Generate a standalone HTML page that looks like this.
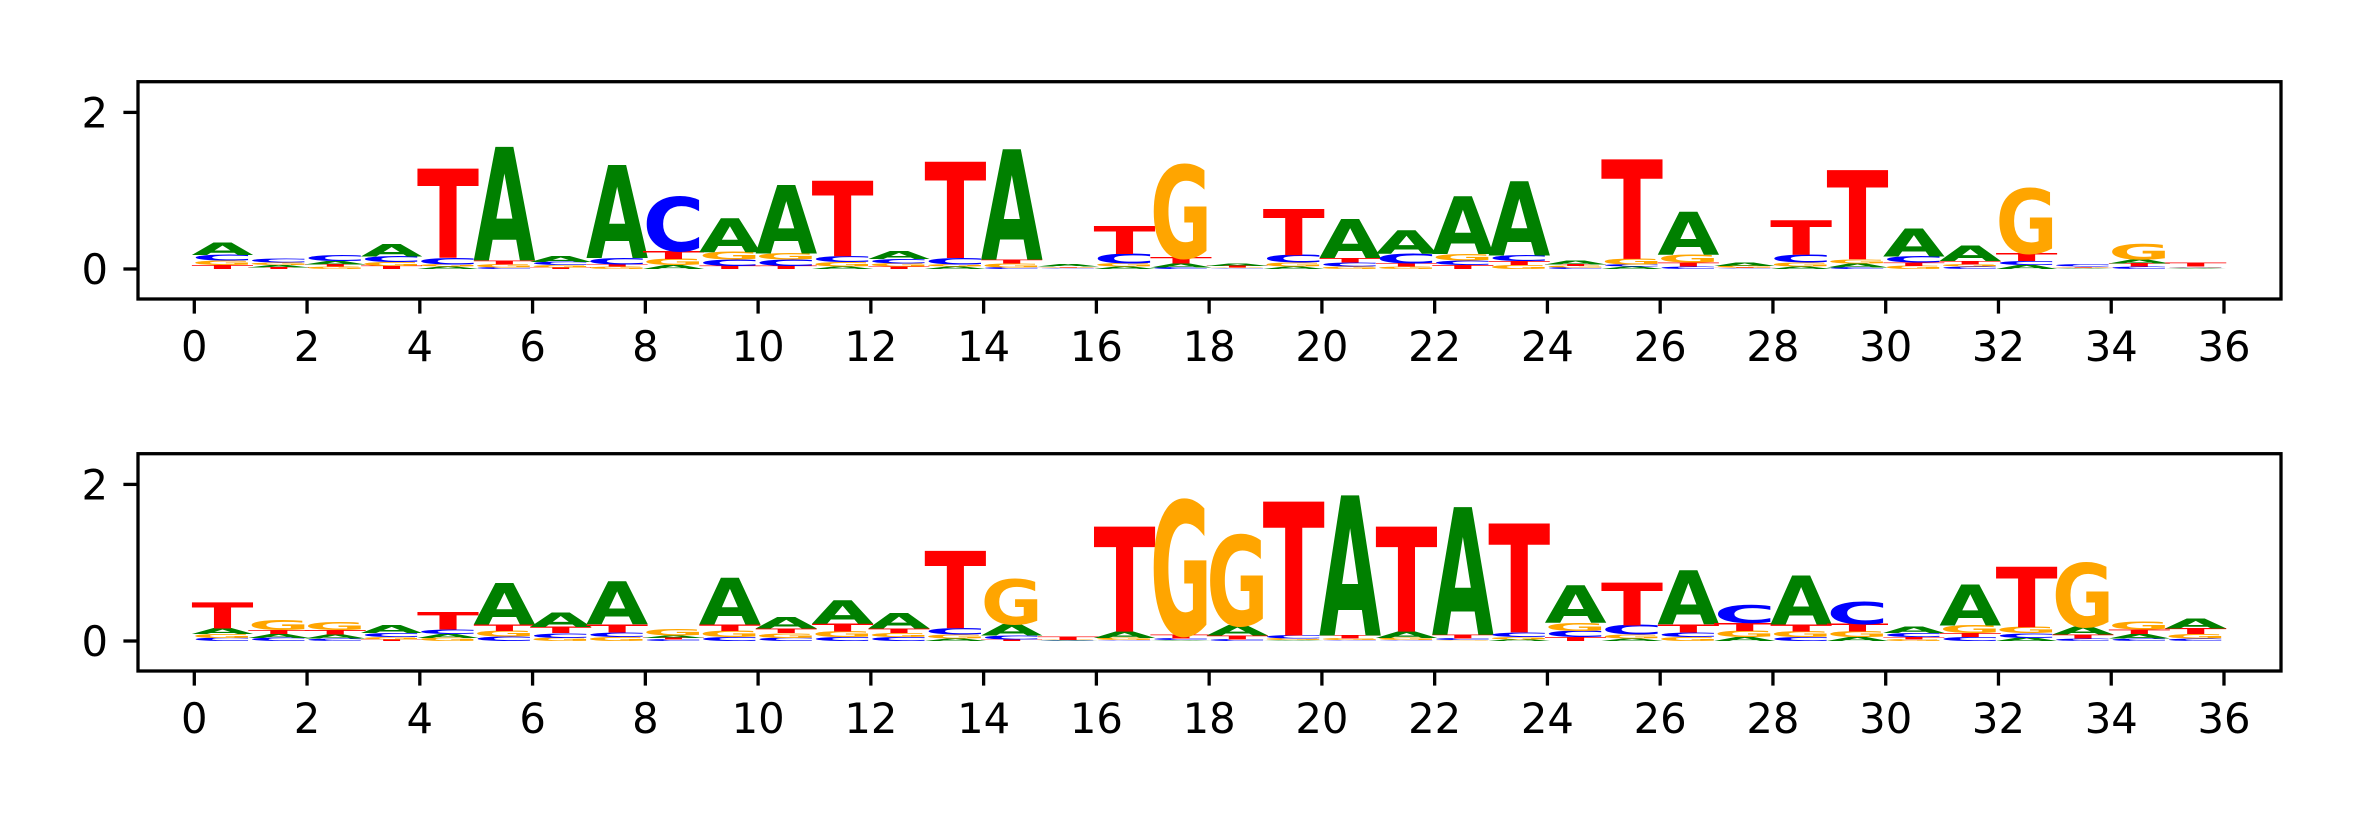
<!DOCTYPE html>
<html><head><meta charset="utf-8"><style>
html,body{margin:0;padding:0;background:#fff}
svg{display:block}
text{font-family:"DejaVu Sans","Liberation Sans",sans-serif}
</style></head><body>
<svg id="chart" width="2362" height="826" viewBox="0 0 2362 826" xmlns="http://www.w3.org/2000/svg">
<g id="panels"></g>
</svg>
<script>
const positions = Array.from({length:36},(_,i)=>i);
const xTicks = [0,2,4,6,8,10,12,14,16,18,20,22,24,26,28,30,32,34,36];
const yTicks = [0,2];
const letters = ['A','C','G','T'];
const top_A = [.16,.03,.04,.16,.03,1.45,.07,1.19,.05,.43,.87,.03,.1,.03,1.41,.03,.03,.05,.03,.03,.5,.3,.74,.95,.05,.03,.55,.04,.03,.05,.36,.2,.05,.01,.05,.01];
const top_C = [.07,.05,.07,.07,.08,.02,.04,.08,.69,.08,.08,.07,.06,.08,.02,.01,.12,.02,.01,.1,.05,.12,.06,.07,.02,.03,.03,.01,.1,.02,.08,.03,.05,.03,.03,.01];
const top_G = [.06,.03,.03,.05,.03,.04,.03,.03,.08,.1,.08,.06,.04,.03,.05,.01,.04,1.18,.01,.05,.03,.03,.08,.05,.02,.07,.1,.02,.05,.05,.04,.03,.82,.01,.2,.01];
const top_T = [.05,.02,.03,.04,1.14,.05,.02,.03,.1,.04,.04,.96,.03,1.23,.05,.01,.36,.08,.02,.59,.06,.04,.05,.05,.02,1.27,.05,.01,.44,1.14,.04,.04,.1,.01,.04,.05];
const bot_A = [.07,.05,.05,.1,.05,.53,.18,.55,.03,.6,.15,.3,.2,.03,.15,.005,.08,.01,.13,.01,1.79,.08,1.63,.02,.48,.03,.69,.05,.62,.05,.08,.52,.04,.1,.06,.12];
const bot_C = [.04,.04,.03,.05,.06,.06,.06,.06,.02,.05,.04,.05,.05,.08,.05,.005,.01,.02,.02,.04,.01,.01,.02,.06,.08,.12,.06,.23,.05,.28,.05,.05,.06,.03,.03,.03];
const bot_G = [.05,.12,.1,.03,.04,.07,.04,.05,.08,.08,.06,.07,.05,.05,.57,.005,.03,1.71,1.15,.02,.02,.03,.01,.03,.1,.05,.05,.08,.07,.07,.02,.1,.08,.81,.1,.06];
const bot_T = [.33,.05,.06,.02,.22,.08,.08,.1,.02,.08,.06,.1,.06,.99,.02,.04,1.34,.05,.05,1.71,.04,1.34,.05,1.39,.05,.55,.1,.1,.09,.1,.03,.05,.77,.05,.06,.07];

const colors = {A:'#008000',C:'#0000ff',G:'#ffa500',T:'#ff0000'};
const NS='http://www.w3.org/2000/svg';
const root=document.getElementById('panels');
function mk(tag,attrs,parent){const e=document.createElementNS(NS,tag);for(const k in attrs)e.setAttribute(k,attrs[k]);parent.appendChild(e);return e;}

const X0=194.3, XU=56.38, YU=78.3;
function xs(d){return X0+XU*d;}
function drawPanel(name, yOff, A, C, G, T){
  const zero=269+yOff;
  function ys(v){return zero-YU*v;}
  const g=mk('g',{},root);
  
  
  const series={A:A,C:C,G:G,T:T};
  positions.forEach(i=>{
    const stack=letters.map(l=>({l:l,h:series[l][i]})).sort((a,b)=>a.h-b.h);
    let base=0;
    stack.forEach(s=>{
      const H=YU*s.h;
      if(H>0.2){
        const W=XU;
        const t=mk('text',{x:0,y:0,'font-size':100,'font-weight':'bold',fill:colors[s.l],
          textLength:(W*1.1).toFixed(2),lengthAdjust:'spacingAndGlyphs',
          transform:'translate('+(xs(i)-W*0.05).toFixed(2)+','+ys(base).toFixed(2)+') scale(1,'+(H/72.9).toFixed(4)+')'},g);
        t.textContent=s.l;
        
        
      }
      base+=s.h;
    });
  });
  const top=81.7+yOff, bottom=299+yOff;
  const frame=mk('rect',{x:138,y:top,width:2281-138,height:bottom-top,fill:'none',stroke:'#000','stroke-width':3.3},g);
  
  
  xTicks.forEach(v=>{
    const x=xs(v);
    const tk=mk('line',{x1:x,x2:x,y1:bottom,y2:bottom+14.6,stroke:'#000','stroke-width':3.3},g);
    
    
    const lb=mk('text',{x:x,y:bottom+62,'font-size':41.7,'text-anchor':'middle',fill:'#000'},g);
    lb.textContent=String(v);
    
    
  });
  yTicks.forEach(v=>{
    const y=ys(v);
    const tk=mk('line',{x1:123.4,x2:138,y1:y,y2:y,stroke:'#000','stroke-width':3.3},g);
    
    
    const lb=mk('text',{x:108,y:y+15,'font-size':41.7,'text-anchor':'end',fill:'#000'},g);
    lb.textContent=String(v);
    
    
  });
}
drawPanel('top-logo-panel',0,top_A,top_C,top_G,top_T);
drawPanel('bottom-logo-panel',372,bot_A,bot_C,bot_G,bot_T);
</script>
</body></html>
